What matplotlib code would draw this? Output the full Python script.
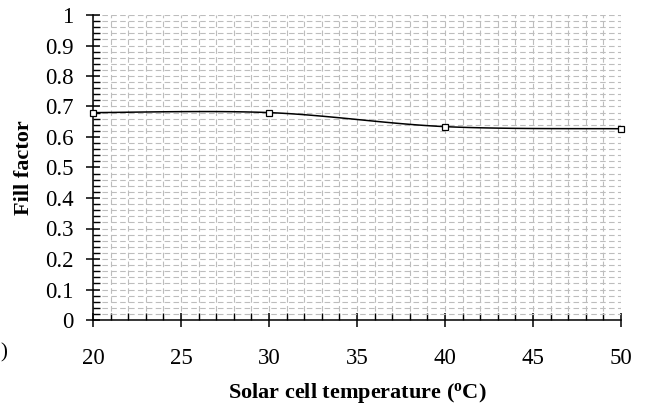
import numpy as np
import matplotlib
matplotlib.use("Agg")
import matplotlib.pyplot as plt
from matplotlib.ticker import MultipleLocator, FuncFormatter

plt.rcParams['font.family'] = 'Liberation Serif'
plt.rcParams['mathtext.fontset'] = 'custom'
plt.rcParams['mathtext.rm'] = 'Liberation Serif:bold'
plt.rcParams['mathtext.default'] = 'rm'

# data
temperature = [20, 30, 40, 50]
fill_factor = [0.68, 0.68, 0.634, 0.627]


def smooth(x, y, n=40):
    # Excel style smoothed line (Catmull-Rom bezier)
    x = np.asarray(x, float)
    y = np.asarray(y, float)
    px = np.concatenate([[x[0]], x, [x[-1]]])
    py = np.concatenate([[y[0]], y, [y[-1]]])
    xs, ys = [], []
    t = np.linspace(0, 1, n)
    for i in range(1, len(px) - 2):
        p0 = np.array([px[i], py[i]])
        p3 = np.array([px[i + 1], py[i + 1]])
        p1 = p0 + (np.array([px[i + 1], py[i + 1]]) - np.array([px[i - 1], py[i - 1]])) / 6
        p2 = p3 - (np.array([px[i + 2], py[i + 2]]) - np.array([px[i], py[i]])) / 6
        b = ((1 - t) ** 3)[:, None] * p0 + (3 * (1 - t) ** 2 * t)[:, None] * p1 \
            + (3 * (1 - t) * t ** 2)[:, None] * p2 + (t ** 3)[:, None] * p3
        xs.extend(b[:, 0])
        ys.extend(b[:, 1])
    return xs, ys


def ylab(v, pos):
    if abs(v) < 1e-9:
        return '0'
    if abs(v - 1) < 1e-9:
        return '1'
    return '%.1f' % v


fig = plt.figure(figsize=(6.48, 4.05), dpi=100)
ax = fig.add_axes([93 / 648, 1 - 320 / 405, 528 / 648, 305 / 405])

sx, sy = smooth(temperature, fill_factor)
ax.plot(sx, sy, color='black', linewidth=1.1, zorder=3)
ax.plot(temperature, fill_factor, linestyle='none', marker='s', markersize=5,
        markerfacecolor='white', markeredgecolor='black', markeredgewidth=0.9,
        zorder=4, clip_on=False)

ax.set_xlim(20, 50)
ax.set_ylim(0, 1)
ax.xaxis.set_major_locator(MultipleLocator(5))
ax.xaxis.set_minor_locator(MultipleLocator(1))
ax.yaxis.set_major_locator(MultipleLocator(0.1))
ax.yaxis.set_minor_locator(MultipleLocator(0.02))
ax.yaxis.set_major_formatter(FuncFormatter(ylab))

ax.grid(which='both', color='#bdbdbd', linestyle=(0, (5, 3)), linewidth=0.8)
ax.set_axisbelow(True)

for s in ['top', 'right']:
    ax.spines[s].set_visible(False)
for s in ['left', 'bottom']:
    ax.spines[s].set_linewidth(1.1)

ax.tick_params(which='major', direction='inout', length=10, width=1.1, labelsize=16.5)
ax.tick_params(which='minor', direction='in', length=5, width=1.0)
ax.tick_params(axis='x', which='major', pad=15)
ax.tick_params(axis='y', which='major', pad=9)

ax.set_xlabel(r'Solar cell temperature ($^{o}$C)', fontsize=16, fontweight='bold', labelpad=9)
ax.set_ylabel('Fill factor', fontsize=16, fontweight='bold', labelpad=8)

fig.text(0.0, 1 - 353 / 405, ')', fontsize=15, va='center', ha='left')

fig.savefig('out.png', dpi=100)
